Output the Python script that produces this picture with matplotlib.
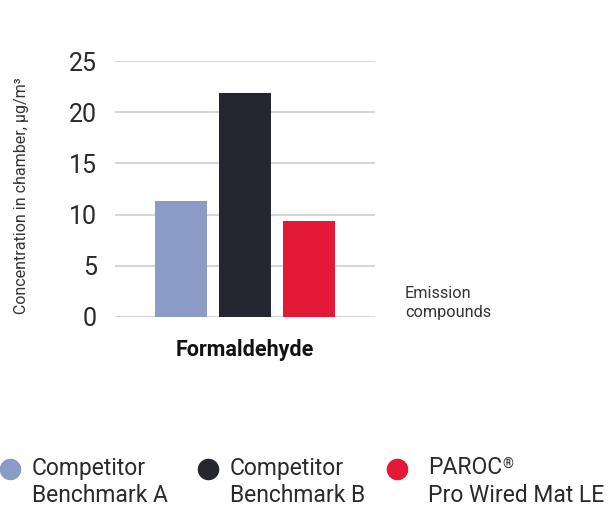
import matplotlib.pyplot as plt
from matplotlib.lines import Line2D

plt.rcParams['font.family'] = ['Roboto', 'DejaVu Sans']

# ---------------- DATA ----------------
category = "Formaldehyde"
series = ["Competitor\nBenchmark A", "Competitor\nBenchmark B", "PAROC®\nPro Wired Mat LE"]
values = [11.3, 21.9, 9.4]
colors = ["#8a9cc6", "#262630", "#e31937"]
yticks = [0, 5, 10, 15, 20, 25]

W, H = 611, 509

# ---------------- CHART ----------------
fig = plt.figure(figsize=(W / 100, H / 100), dpi=100)
ax = fig.add_axes([115 / W, 1 - 317 / H, 260 / W, 256 / H])

ax.bar(range(len(values)), values, width=0.8, color=colors, zorder=3)

ax.set_ylim(0, 25)
ax.set_xlim(-1.03, 3.03)
ax.set_yticks(yticks)
ax.yaxis.grid(True, color="#d2d2d2", linewidth=1.3, zorder=0)
ax.tick_params(axis="y", length=0, pad=13, labelsize=18, labelcolor="#2a2a2a")
ax.set_xticks([1])
ax.set_xticklabels([category], fontsize=15.5, fontweight="bold", color="#111111")
ax.tick_params(axis="x", length=0, pad=16)
for s in ax.spines.values():
    s.set_visible(False)

fig.text(22 / W, 1 - 196 / H, "Concentration in chamber, µg/m³", rotation=90,
         ha="center", va="center", fontsize=11.5, color="#333333")
fig.text(405 / W, 1 - 293 / H, "Emission", ha="left", va="center",
         fontsize=11.7, color="#333333")
fig.text(405 / W, 1 - 313 / H, "compounds", ha="left", va="center",
         fontsize=11.7, color="#333333")

# ---------------- LEGEND ----------------
marker_x = [10, 208, 397]
text_x = [32, 230, 428]
for name, c, mx, tx in zip(series, colors, marker_x, text_x):
    fig.add_artist(Line2D([mx / W], [1 - 469 / H], transform=fig.transFigure,
                          linestyle="none", marker="o", markersize=14.5,
                          markerfacecolor=c, markeredgecolor=c))
    for i, line in enumerate(name.split("\n")):
        y = 1 - (468 + 28 * i) / H
        if line.endswith("®"):
            # registered sign drawn small and raised, like the original
            t = fig.text(tx / W, y, line[:-1], ha="left", va="center",
                         fontsize=16.5, color="#2a2a2a")
            ax.annotate("®", xy=(1, 0.95), xycoords=t, xytext=(0.3, 0),
                        textcoords="offset points", ha="left", va="top",
                        fontsize=10, color="#2a2a2a")
        else:
            fig.text(tx / W, y, line, ha="left", va="center",
                     fontsize=16.5, color="#2a2a2a")

fig.savefig("out.png", dpi=100)
